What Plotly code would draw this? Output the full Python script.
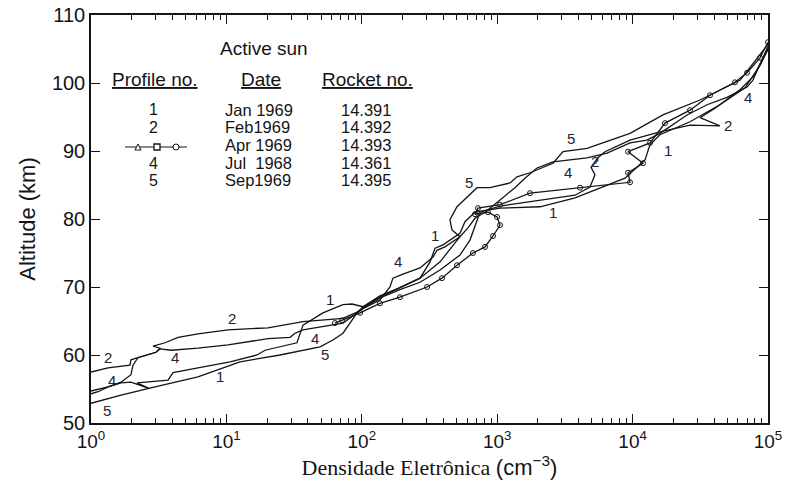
import numpy as np
import plotly.graph_objects as go

# ---- data: log10(electron density, cm^-3) and altitude (km) ----
c1_log_ne = [0, .126, .222, .295, .428, .340, .569, .606, .790, 1.027, 1.226, 1.285, 1.521, 1.566,
             1.713, 1.861, 1.928, 2.009, 2.134, 2.282, 2.430, 2.504, 2.541, 2.600, 2.725, 2.762,
             2.836, 3.021, 3.316, 3.575, 3.759, 3.944, 4.092, 4.128, 4.202, 4.424, 4.645, 4.830,
             4.941, 5.0]
c1_alt = [54.7, 55.3, 55.9, 56.0, 55.1, 55.9, 56.3, 57.4, 58.1, 59.0, 60.0, 60.7, 61.8, 64.4,
          66.2, 67.4, 67.5, 67.1, 68.5, 69.9, 71.3, 73.7, 75.7, 76.2, 77.9, 79.6,
          81.0, 81.6, 81.8, 83.1, 84.6, 86.0, 88.7, 90.9, 92.4, 94.3, 96.8, 99.3,
          102.6, 104.9]

c2_log_ne = [0, .126, .288, .295, .347, .406, .480, .510, .458, .547, .643, .790, 1.012, 1.307,
             1.566, 1.861, 1.965, 2.009, 2.134, 2.282, 2.430, 2.578, 2.725, 2.799, 2.836, 2.873,
             3.021, 3.316, 3.575, 3.685, 3.722, 3.693, 3.744, 3.796, 3.981, 4.202, 4.424, 4.645,
             4.498, 4.609, 4.793, 4.904, 5.0]
c2_alt = [57.5, 58.1, 58.5, 59.3, 59.6, 60.0, 60.4, 61.0, 61.3, 61.8, 62.6, 63.1, 63.7, 64.0,
          64.9, 65.4, 66.3, 66.9, 68.4, 69.6, 70.7, 72.5, 74.7, 76.9, 79.1, 81.0,
          81.9, 82.8, 83.5, 84.7, 86.5, 87.6, 89.0, 89.9, 91.6, 92.8, 93.8, 93.7,
          94.9, 96.3, 99.0, 101.2, 105.1]

c3_log_ne = [1.802, 1.854, 1.987, 2.134, 2.282, 2.482, 2.592, 2.703, 2.821, 2.910, 2.969, 3.021,
             2.999, 2.932, 2.836, 2.858, 3.021, 3.242, 3.612, 3.981, 3.966, 4.077, 3.966, 4.129,
             4.239, 4.424, 4.572, 4.756, 4.845, 4.941, 5.0]
c3_alt = [64.7, 65.1, 66.2, 67.6, 68.5, 70.0, 71.3, 73.2, 75.0, 75.9, 77.5, 79.1,
          80.3, 81.0, 80.7, 81.6, 82.1, 83.8, 84.6, 85.4, 86.8, 88.2, 89.9, 91.2,
          94.1, 96.0, 98.2, 100.1, 101.5, 103.7, 106.0]

c4_log_ne = [0, .052, .126, .222, .295, .310, .347, .406, .480, .510, .591, .790, 1.012, 1.307,
             1.470, 1.507, 1.566, 1.861, 1.965, 2.009, 2.134, 2.208, 2.230, 2.304, 2.430, 2.526,
             2.555, 2.614, 2.725, 2.784, 2.836, 2.910, 3.021, 3.131, 3.205, 3.294, 3.412, 3.663,
             3.811, 3.981, 4.106, 4.202, 4.402, 4.550, 4.697, 4.845, 4.889, 4.919, 4.963, 5.0]
c4_alt = [54.3, 54.6, 55.3, 56.0, 57.1, 58.5, 59.6, 60.0, 60.4, 60.9, 60.7, 61.0, 61.5, 62.4,
          62.6, 63.2, 63.7, 64.7, 66.2, 66.8, 68.1, 70.0, 71.3, 71.9, 72.8, 74.4,
          75.4, 75.9, 77.4, 78.7, 80.1, 81.0, 82.8, 84.6, 86.0, 87.5, 88.4, 89.0,
          89.7, 91.2, 91.6, 92.6, 95.3, 96.8, 97.9, 99.4, 100.4, 101.9, 103.7, 105.4]

c5_log_ne = [0, .222, .473, .790, 1.100, 1.396, 1.691, 1.787, 1.861, 1.913, 1.965, 2.009, 2.134,
             2.282, 2.430, 2.578, 2.725, 2.666, 2.651, 2.703, 2.777, 2.851, 2.947, 3.095, 3.146,
             3.242, 3.412, 3.486, 3.663, 3.981, 4.224, 4.498, 4.793, 5.0]
c5_alt = [52.9, 54.1, 55.3, 56.8, 59.0, 60.0, 61.2, 62.2, 63.2, 64.7, 66.2, 67.1, 68.7,
          69.9, 71.3, 73.7, 77.4, 78.4, 79.9, 81.8, 83.2, 84.6, 84.6, 85.3, 86.2,
          86.8, 88.2, 89.9, 90.4, 92.6, 95.3, 97.5, 100.4, 105.7]

# curve labels on the plot (profile number, log10 density, altitude)
lab_text = ["1", "1", "1", "1", "1", "2", "2", "2", "2",
            "4", "4", "4", "4", "4", "4", "5", "5", "5", "5"]
lab_log_ne = [.953, 1.765, 2.541, 3.412, 4.261, .126, 1.041, 3.722, 4.705,
              .155, .620, 1.654, 2.267, 3.523, 4.852, .118, 1.728, 2.792, 3.545]
lab_alt = [56.8, 68.1, 77.6, 80.9, 90.1, 59.7, 65.4, 88.4, 93.7,
           56.3, 59.6, 62.5, 73.7, 86.8, 97.9, 51.9, 60.1, 85.3, 91.9]

# table inside the chart
profiles = ["1", "2", "", "4", "5"]
dates = ["Jan 1969", "Feb1969", "Apr 1969", "Jul\u00a0 1968", "Sep1969"]
rockets = ["14.391", "14.392", "14.393", "14.361", "14.395"]

x_tickvals = [1, 10, 100, 1e3, 1e4, 1e5]
x_ticktext = ["10<sup>0</sup>", "10<sup>1</sup>", "10<sup>2</sup>",
              "10<sup>3</sup>", "10<sup>4</sup>", "10<sup>5</sup>"]
y_tickvals = [50, 60, 70, 80, 90, 100, 110]

SANS = "Liberation Sans, Arial, sans-serif"
SERIF = "Liberation Serif, Times New Roman, serif"
INK = "#141414"

fig = go.Figure()
curves = [(c1_log_ne, c1_alt, False), (c2_log_ne, c2_alt, False), (c3_log_ne, c3_alt, True),
          (c4_log_ne, c4_alt, False), (c5_log_ne, c5_alt, False)]
for lx, alt, mk in curves:
    fig.add_trace(go.Scatter(
        x=10 ** np.array(lx), y=alt,
        mode="lines+markers" if mk else "lines",
        line=dict(color=INK, width=1.3),
        marker=dict(symbol="circle-open", size=5, color=INK, line=dict(width=1)),
        showlegend=False, hoverinfo="skip"))

for t, lx, a in zip(lab_text, lab_log_ne, lab_alt):
    fig.add_annotation(x=lx, y=a, xref="x", yref="y", text=t, showarrow=False,
                       xanchor="center", yanchor="middle",
                       font=dict(family=SANS, size=15, color="#2a2030"))

# table (paper coordinates: plot area spans x 91..768 px, y 15..423 px)
def px(xp):
    return (xp - 91) / 677.0

def py(yp):
    return (423 - yp) / 408.0

def note(x, y, text, size, xanchor="center"):
    fig.add_annotation(x=px(x), y=py(y), xref="paper", yref="paper", text=text,
                       xanchor=xanchor, yanchor="middle", showarrow=False,
                       font=dict(family=SANS, size=size, color=INK))

note(264, 48, "Active sun", 19)
for txt, cx in [("Profile no.", 155), ("Date", 261), ("Rocket no.", 367.5)]:
    note(cx, 79, "<u>" + txt + "</u>", 19)
row_y = [110, 127, 145, 163, 180]
for p, d, r, ry in zip(profiles, dates, rockets, row_y):
    if p:
        note(153, ry, p, 16)
    note(223, ry, d, 16.5, xanchor="left")
    note(366, ry, r, 16.5)

# legend sample for profile 3 (line with triangle, square and circle symbols)
ly = 147
fig.add_shape(type="line", xref="paper", yref="paper", x0=px(125), x1=px(187), y0=py(ly), y1=py(ly),
              line=dict(color=INK, width=1.2))
fig.add_shape(type="path", xref="paper", yref="paper",
              path=f"M {px(135)} {py(ly+3)} L {px(141)} {py(ly+3)} L {px(138)} {py(ly-3)} Z",
              line=dict(color=INK, width=1), fillcolor="white")
fig.add_shape(type="rect", xref="paper", yref="paper", x0=px(154), x1=px(160), y0=py(ly+3), y1=py(ly-3),
              line=dict(color=INK, width=1.3), fillcolor="white")
fig.add_shape(type="circle", xref="paper", yref="paper", x0=px(173), x1=px(179), y0=py(ly+3), y1=py(ly-3),
              line=dict(color=INK, width=1), fillcolor="white")

fig.update_layout(
    width=788, height=488,
    margin=dict(l=91, r=20, t=15, b=65),
    paper_bgcolor="white", plot_bgcolor="white",
    font=dict(family=SANS, color=INK),
    showlegend=False,
)
fig.update_xaxes(
    type="log", range=[0, 5], automargin=False,
    tickmode="array", tickvals=x_tickvals, ticktext=x_ticktext,
    ticks="inside", ticklen=9, tickwidth=1.2, tickcolor=INK,
    minor=dict(ticks="inside", ticklen=5, tickwidth=1, tickcolor=INK, tickmode="array",
               tickvals=[m * 10 ** k for k in range(5) for m in range(2, 10)]),
    showline=True, linecolor=INK, linewidth=1.5, mirror="allticks",
    showgrid=False, zeroline=False,
    tickfont=dict(family=SANS, size=19, color=INK),
    title=dict(text="Densidade Eletrônica <span style='font-family:Liberation Sans'>(cm<sup>\u22123</sup>)</span>",
               font=dict(family=SERIF, size=22, color=INK), standoff=8),
)
fig.update_yaxes(
    range=[50, 110], automargin=False, tickmode="array", tickvals=y_tickvals,
    ticks="inside", ticklen=9, tickwidth=1.2, tickcolor=INK,
    showline=True, linecolor=INK, linewidth=1.5, mirror="allticks",
    showgrid=False, zeroline=False,
    tickfont=dict(family=SANS, size=20, color=INK),
    title=dict(text="Altitude (km)", font=dict(family=SANS, size=22, color=INK), standoff=10),
)

fig.write_html("out.html")
